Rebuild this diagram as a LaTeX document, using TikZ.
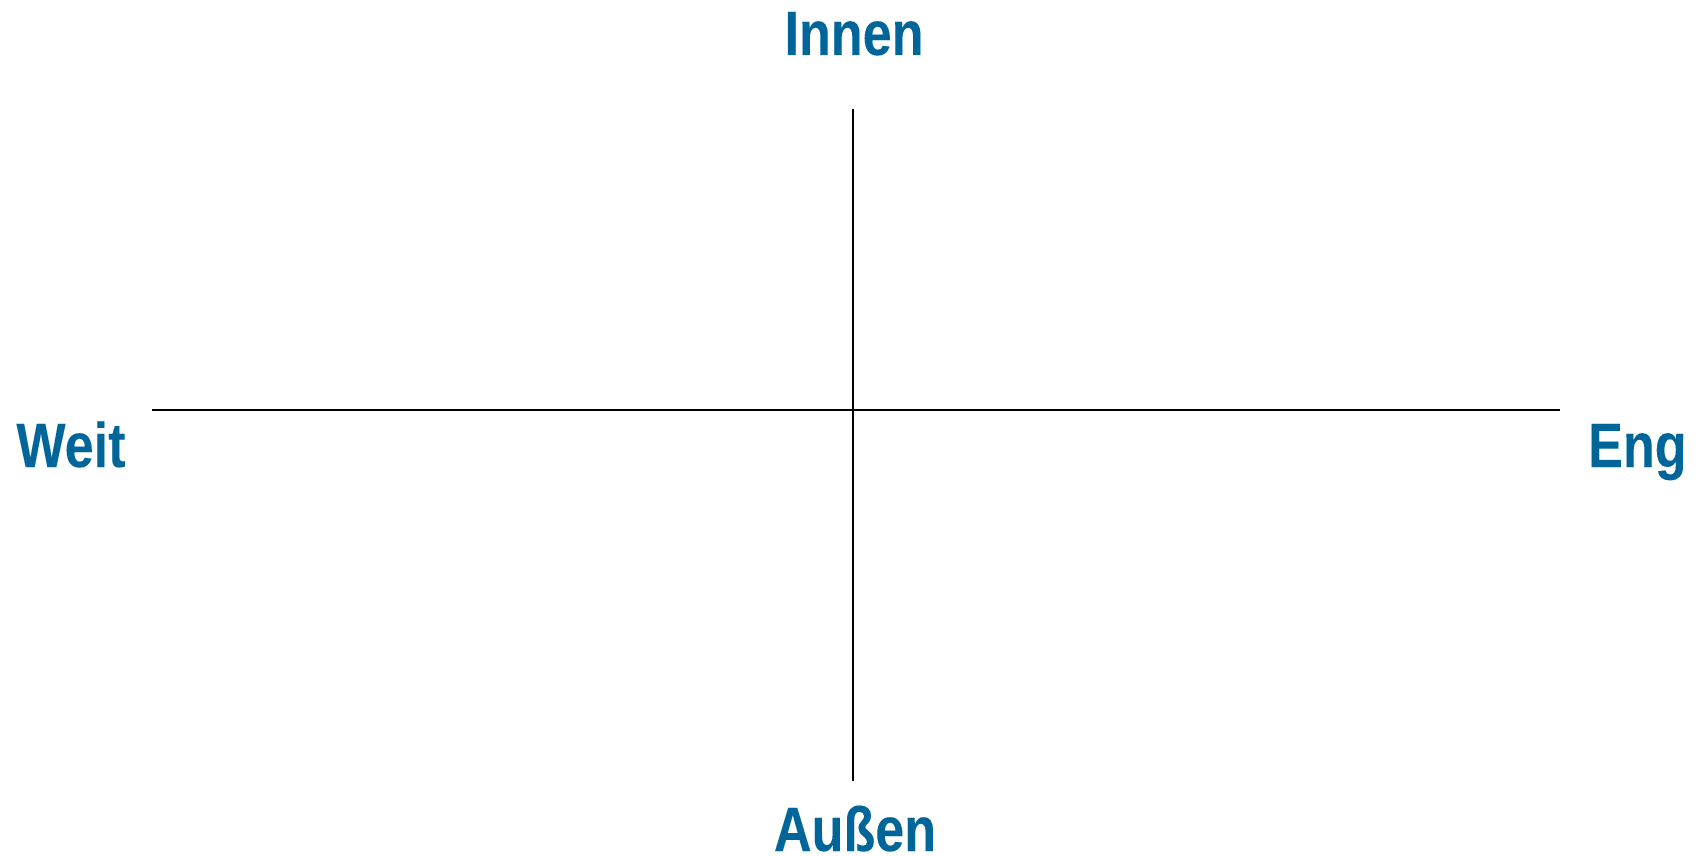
\documentclass[tikz,border=0pt]{standalone}
\usepackage{fontspec}
\newfontfamily\lblfont{Liberation Sans Bold}[FakeStretch=0.83,FakeBold=0.06]
\definecolor{labelblue}{RGB}{0,102,153}
\begin{document}
\begin{tikzpicture}[x=0.5pt,y=-0.5pt,
  axis/.style={line width=1.2pt,black},
  lbl/.style={inner sep=0pt,text=labelblue,font=\fontsize{31.4}{36}\lblfont}]
\useasboundingbox (0,0) rectangle (1699,856);
\coordinate (top) at (853,109);
\coordinate (bot) at (853,781);
\coordinate (lft) at (152,410);
\coordinate (rgt) at (1560,410);
\draw[axis] (top) -- (bot);
\draw[axis] (lft) -- (rgt);
\node[lbl,anchor=base] (innen) at (854,55) {Innen};
\node[lbl,anchor=base] (aussen) at (855,851) {Außen};
\node[lbl,anchor=base west] (weit) at (16,467) {Weit};
\node[lbl,anchor=base east] (eng) at (1687,467) {Eng};
\end{tikzpicture}
\end{document}
